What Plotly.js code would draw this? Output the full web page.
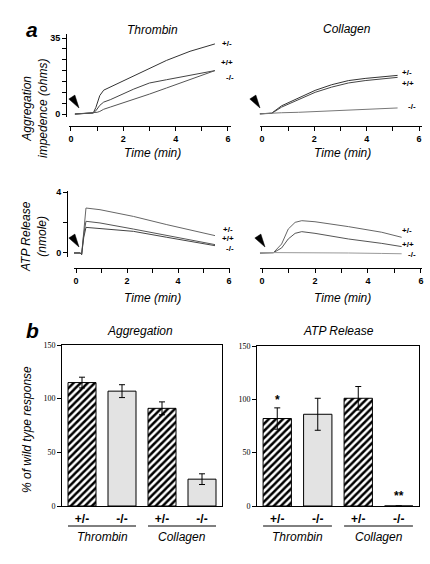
<!DOCTYPE html>
<html>
<head>
<meta charset="utf-8">
<script src="https://cdn.plot.ly/plotly-3.0.1.min.js"></script>
<style>html,body{margin:0;padding:0;background:#fff;}#chart{width:430px;height:564px;}</style>
</head>
<body>
<div id="chart"></div>
<script>
// ---------- DATA ----------
// Panel a: aggregation impedance (ohms) vs time (min)
const thrAggTime = [0.15, 0.5, 0.85, 0.95, 1.0, 1.1, 1.25, 1.5, 2.4, 3.0, 3.65, 4.55, 5.5];
const thrAggHet  = [0, 0.2, 0.5, 3, 5, 8.5, 11, 12.4, 17.4, 21, 24.7, 28.9, 32.3];
const thrAggWt   = [0, 0.2, 0.5, 1.5, 2.5, 4, 5.5, 6.6, 11.5, 14.3, 15.8, 17.7, 20];
const thrAggKo   = [0, 0.2, 0.4, 0.5, 0.8, 1.2, 2.2, 3.2, 6.6, 9.2, 12, 15.8, 20];

const colAggTime = [-0.27, 0.1, 0.37, 0.75, 1.39, 2.03, 2.66, 3.3, 3.94, 4.57, 5.18];
const colAggHet  = [0, 0.1, 0.4, 3.8, 7.4, 10.9, 13.5, 15.4, 16.4, 17, 17.8];
const colAggWt   = [0, 0.1, 0.3, 3.2, 6.6, 10, 12.4, 14.3, 15.4, 16.1, 16.9];
const colAggKo   = [0, 0.1, 0.4, 0.6, 0.8, 1.1, 1.4, 1.8, 2.2, 2.5, 2.8];

// Panel a: ATP release (nmole) vs time (min)
const thrAtpTime = [-0.17, 0.16, 0.22, 0.3, 0.39, 0.94, 2.25, 3.56, 4.86, 5.45];
const thrAtpHet  = [0, 0, -0.1, 1.5, 2.95, 2.84, 2.4, 1.86, 1.36, 1.14];
const thrAtpWt   = [0, 0, -0.1, 1.2, 2.08, 1.97, 1.57, 1.14, 0.7, 0.55];
const thrAtpKo   = [0, 0, -0.1, 1.0, 1.68, 1.6, 1.42, 1.03, 0.66, 0.48];

const colAtpTime = [-0.08, 0.43, 0.74, 0.99, 1.25, 1.5, 2.0, 3.26, 4.52, 5.27];
const colAtpHet  = [0, 0.02, 0.59, 1.57, 2.01, 2.12, 2.05, 1.73, 1.36, 1.03];
const colAtpWt   = [0, 0.02, 0.33, 0.92, 1.29, 1.4, 1.29, 0.92, 0.63, 0.42];
const colAtpKo   = [0.03, 0.03, 0.03, 0.02, 0.02, 0.02, 0.01, 0, -0.03, -0.05];

const genoLabels = ['+/-', '+/+', '-/-'];

// Panel b: % of wild type response
const barGenotypes = ['+/-', '-/-', '+/-', '-/-'];
const barAgonists  = ['Thrombin', 'Collagen'];
const aggPct = [115, 107, 91, 25];
const aggErr = [5, 6, 6, 5];
const atpPct = [82, 86, 101, 0];
const atpErr = [10, 15, 11, 0];

const timeTicks = [0, 1, 2, 3, 4, 5, 6];
const timeTickText = ['0', '', '2', '', '4', '', '6'];
const aggTicks = [0, 5, 10, 15, 20, 25, 30, 35];
const aggTickText = ['0', '', '', '', '', '', '', '35'];
const atpTicks = [0, 2, 4];
const atpTickText = ['0', '', '4'];
const pctTicks = [0, 50, 100, 150];

// ---------- LAYOUT HELPERS ----------
const W = 430, H = 564;
const fx = p => p / W;
const fy = p => 1 - p / H;
const SANS = 'Liberation Sans, Arial, sans-serif';
const SERIF = 'Liberation Serif, Times New Roman, serif';

function line(x, y, xa, ya, color) {
  return {x: x, y: y, xaxis: xa, yaxis: ya, type: 'scatter', mode: 'lines',
    line: {color: color, width: 1}, hoverinfo: 'skip', showlegend: false};
}
const traces = [
  line(thrAggTime, thrAggHet, 'x', 'y', '#333'),
  line(thrAggTime, thrAggWt, 'x', 'y', '#444'),
  line(thrAggTime, thrAggKo, 'x', 'y', '#555'),
  line(colAggTime, colAggHet, 'x2', 'y2', '#333'),
  line(colAggTime, colAggWt, 'x2', 'y2', '#444'),
  line(colAggTime, colAggKo, 'x2', 'y2', '#777'),
  line(thrAtpTime, thrAtpHet, 'x3', 'y3', '#666'),
  line(thrAtpTime, thrAtpWt, 'x3', 'y3', '#555'),
  line(thrAtpTime, thrAtpKo, 'x3', 'y3', '#444'),
  line(colAtpTime, colAtpHet, 'x4', 'y4', '#666'),
  line(colAtpTime, colAtpWt, 'x4', 'y4', '#555'),
  line(colAtpTime, colAtpKo, 'x4', 'y4', '#999')
];

const barPos = barGenotypes.map((g, i) => i);
function bars(vals, errs, xa, ya, geno) {
  const idx = barPos.filter(i => barGenotypes[i] === geno);
  const hatched = geno === '+/-';
  const marker = {color: hatched ? 'white' : '#e3e3e3', line: {color: 'black', width: 1}};
  if (hatched) marker.pattern = {shape: '/', fgcolor: 'black', bgcolor: 'white', size: 5, solidity: 0.5};
  return {type: 'bar', x: idx, y: idx.map(i => vals[i]), xaxis: xa, yaxis: ya, showlegend: false,
    hoverinfo: 'skip', width: 0.7, marker: marker,
    error_y: {type: 'data', array: idx.map(i => errs[i]), visible: true, color: 'black', thickness: 1, width: 3}
  };
}
traces.push(bars(aggPct, aggErr, 'x5', 'y5', '+/-'));
traces.push(bars(aggPct, aggErr, 'x5', 'y5', '-/-'));
traces.push(bars(atpPct, atpErr, 'x6', 'y6', '+/-'));
traces.push(bars(atpPct, atpErr, 'x6', 'y6', '-/-'));

const boldTick = {family: SANS, size: 9, color: 'black', weight: 'bold'};
function timeAxis(d0, d1, r0, r1, pos) {
  return {domain: [fx(d0), fx(d1)], range: [r0, r1], anchor: 'free', position: fy(pos),
    showline: true, linecolor: 'black', linewidth: 1, ticks: 'outside', ticklen: 4,
    tickcolor: 'black', tickvals: timeTicks, ticktext: timeTickText, tickfont: boldTick,
    showgrid: false, zeroline: false, fixedrange: true};
}
function valAxis(top, bot, r0, r1, xpos, tv, tt) {
  return {domain: [fy(bot), fy(top)], range: [r0, r1], anchor: 'free', position: fx(xpos),
    showline: true, linecolor: 'black', linewidth: 1, ticks: 'outside', ticklen: 4,
    tickcolor: 'black', tickvals: tv, ticktext: tt, tickfont: boldTick,
    showgrid: false, zeroline: false, fixedrange: true};
}
function hiddenAxis(top, bot, r0, r1, anchor) {
  return {domain: [fy(bot), fy(top)], range: [r0, r1], anchor: anchor, visible: false, fixedrange: true};
}
function barX(d0, d1, ya) {
  return {domain: [fx(d0), fx(d1)], range: [-0.5, 3.5], anchor: ya, showline: true, mirror: true,
    linecolor: 'black', linewidth: 1, ticks: '', tickvals: barPos,
    ticktext: barGenotypes, tickfont: {family: SANS, size: 12, color: 'black', weight: 'bold'},
    ticklabelstandoff: 2, showgrid: false, zeroline: false, fixedrange: true};
}
function barY(top, bot, xa) {
  return {domain: [fy(bot), fy(top)], range: [0, 150], anchor: xa, showline: true, mirror: true,
    linecolor: 'black', linewidth: 1, ticks: 'outside', ticklen: 4, tickcolor: 'black',
    tickvals: pctTicks, tickfont: {family: SERIF, size: 8, color: 'black'},
    showgrid: false, zeroline: false, fixedrange: true};
}

const annotations = [];
function txt(text, px, py, opts) {
  annotations.push(Object.assign({text: text, x: fx(px), y: fy(py), xref: 'paper', yref: 'paper',
    showarrow: false, xanchor: 'center', yanchor: 'middle',
    font: {family: SANS, size: 12, color: 'black', style: 'italic'}}, opts || {}));
}
const bigLetter = {font: {family: SANS, size: 21, color: 'black', style: 'italic', weight: 'bold'}};
txt('a', 32, 29, bigLetter);
txt('b', 32, 330, bigLetter);
txt('Thrombin', 152, 30);
txt('Collagen', 347, 29);
txt('Aggregation', 140, 331);
txt('ATP Release', 338, 331);
[[152, 153], [342, 153], [152, 298], [342, 298]].forEach(p => txt('Time (min)', p[0], p[1]));
txt('Aggregation<br>impedence (ohms)', 35, 109, {textangle: -90});
txt('ATP Release<br>(nmole)', 34, 237, {textangle: -90});
txt('% of wild type response', 27, 430, {textangle: -90});

const genoFont = {font: {family: SANS, size: 8, color: 'black', weight: 'bold'}, borderpad: 0};
const labelSpots = [
  [[227, 43], [227, 63], [230, 77]],
  [[407, 73], [408, 83], [412, 107]],
  [[228, 229], [228, 239], [230, 249]],
  [[407, 231], [408, 244], [412, 254]]
];
labelSpots.forEach(set => set.forEach((p, i) => txt(genoLabels[i], p[0], p[1], genoFont)));

// group labels beneath the bar charts
['x5', 'x6'].forEach(function (xa) {
  [0.5, 2.5].forEach(function (c, i) {
    annotations.push({text: barAgonists[i], x: c, xref: xa, y: fy(537), yref: 'paper',
      showarrow: false, xanchor: 'center', yanchor: 'middle',
      font: {family: SANS, size: 12, color: 'black', style: 'italic'}});
  });
});
// significance marks
annotations.push({text: '*', x: 0, y: atpPct[0] + atpErr[0] + 7, xref: 'x6', yref: 'y6', showarrow: false,
  font: {family: SANS, size: 12, color: 'black', weight: 'bold'}});
annotations.push({text: '**', x: 3, y: 9, xref: 'x6', yref: 'y6', showarrow: false,
  font: {family: SANS, size: 12, color: 'black', weight: 'bold'}});

const shapes = [];
['x5', 'x6'].forEach(function (xa) {
  [[-0.35, 1.35], [1.65, 3.35]].forEach(function (s) {
    shapes.push({type: 'line', xref: xa, yref: 'paper', x0: s[0], x1: s[1], y0: fy(526), y1: fy(526),
      line: {color: 'black', width: 1}});
  });
});
// arrowheads marking agonist addition
function arrowHead(tx, ty) {
  const dx = -0.55, dy = -0.84, len = 13, hw = 3.6;
  const bx = tx + dx * len, by = ty + dy * len;
  const p1 = [bx - dy * hw, by + dx * hw], p2 = [bx + dy * hw, by - dx * hw];
  shapes.push({type: 'path', xref: 'paper', yref: 'paper', fillcolor: 'black',
    line: {color: 'black', width: 0.5},
    path: 'M ' + fx(tx) + ' ' + fy(ty) + ' L ' + fx(p1[0]) + ' ' + fy(p1[1]) + ' L ' + fx(p2[0]) + ' ' + fy(p2[1]) + ' Z'});
}
arrowHead(79, 108);
arrowHead(260, 108);
arrowHead(79, 247);
arrowHead(265, 247);

const layout = {
  width: W, height: H, margin: {l: 0, r: 0, t: 0, b: 0}, paper_bgcolor: 'white', plot_bgcolor: 'rgba(0,0,0,0)',
  showlegend: false, barmode: 'overlay',
  font: {family: SANS, color: 'black'},
  xaxis: timeAxis(68.9, 230.6, -0.08, 6.1, 126),
  yaxis: valAxis(33.7, 117.3, -1.5, 37, 66, aggTicks, aggTickText),
  xaxis2: timeAxis(259.9, 422.2, -0.08, 6.12, 126),
  yaxis2: hiddenAxis(33.7, 117.3, -1.5, 37, 'x2'),
  xaxis3: timeAxis(74, 230.3, -0.08, 6.05, 268),
  yaxis3: valAxis(190.5, 256.8, -0.25, 4.1, 67, atpTicks, atpTickText),
  xaxis4: timeAxis(259.9, 422.3, -0.08, 6.05, 268),
  yaxis4: hiddenAxis(190.5, 256.8, -0.25, 4.1, 'x4'),
  xaxis5: barX(62, 222, 'y5'),
  yaxis5: barY(345, 506, 'x5'),
  xaxis6: barX(257, 419, 'y6'),
  yaxis6: barY(346, 506, 'x6'),
  annotations: annotations,
  shapes: shapes
};

Plotly.newPlot('chart', traces, layout, {displayModeBar: false});
</script>
</body>
</html>
